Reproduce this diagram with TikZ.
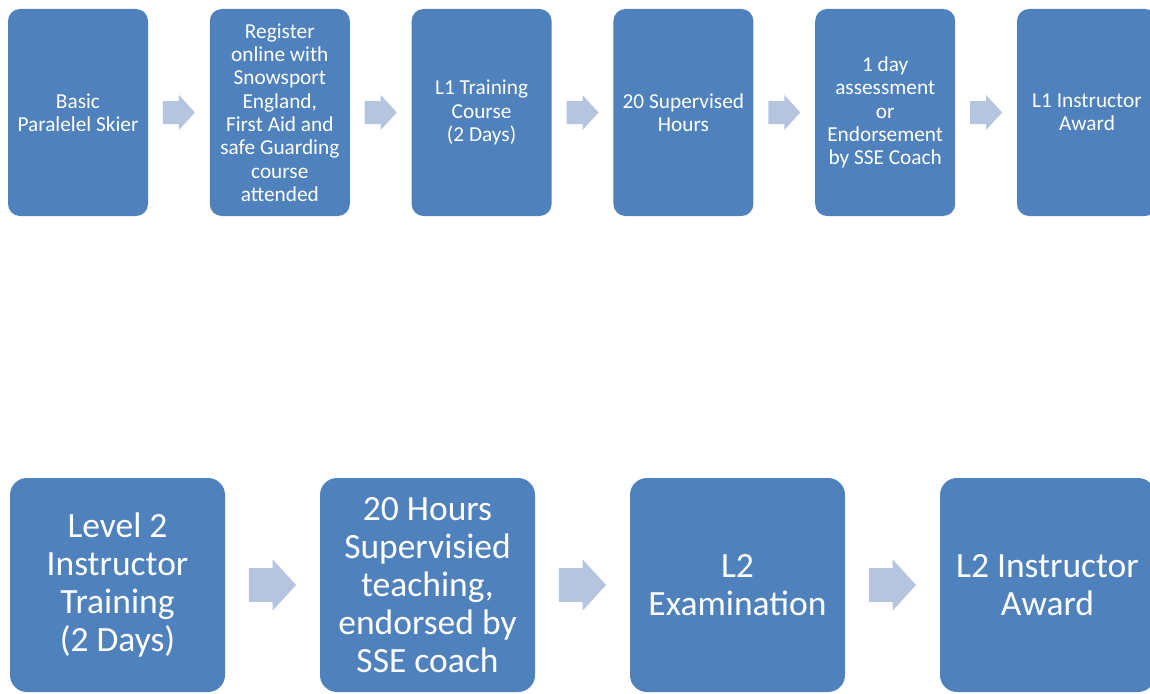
\documentclass[tikz,border=0pt]{standalone}
\usepackage{fontspec}
\setmainfont{Carlito}
\usetikzlibrary{calc}
\definecolor{boxblue}{HTML}{4F81BD}
\definecolor{arrowblue}{HTML}{B5C4DF}
\tikzset{
  stepbox/.style={rectangle, fill=boxblue, text=white, align=center, inner sep=0pt},
  smallbox/.style={stepbox, rounded corners=12pt, minimum width=140pt, minimum height=207pt,
    font=\fontsize{21.3}{23.3}\selectfont},
  bigbox/.style={stepbox, rounded corners=17pt, minimum width=215pt, minimum height=214pt,
    font=\fontsize{35.5}{38}\selectfont},
  arrowfill/.style={fill=arrowblue}
}
% block arrow halfway between two boxes
\newcommand{\steparrow}[3]{%
  \begin{scope}[shift={($(#1.east)!0.5!(#2.west)$)}, scale=#3]
    \fill[arrowfill] (-16,-11.5) -- (0,-11.5) -- (0,-17.5) -- (16,0) -- (0,17.5) -- (0,11.5) -- (-16,11.5) -- cycle;
  \end{scope}}
\begin{document}
\begin{tikzpicture}[x=1pt, y=-1pt]
  \useasboundingbox[fill=white] (0,0) rectangle (1150,693);
  % level 1
  \node[smallbox] (t1) at (78,112.5) {Basic\\Paralelel Skier};
  \node[smallbox] (t2) at (279.8,112.5) {Register\\online with\\Snowsport\\England,\\First Aid and\\safe Guarding\\course\\attended};
  \node[smallbox] (t3) at (481.6,112.5) {L1 Training\\Course\\(2 Days)};
  \node[smallbox] (t4) at (683.4,112.5) {20 Supervised\\Hours};
  \node[smallbox] (t5) at (885.2,112.5) {1 day\\assessment\\or\\Endorsement\\by SSE Coach};
  \node[smallbox] (t6) at (1087,112.5) {L1 Instructor\\Award};
  \foreach \a/\b in {t1/t2,t2/t3,t3/t4,t4/t5,t5/t6} {\steparrow{\a}{\b}{1}}
  % level 2
  \node[bigbox] (b1) at (117.5,585) {Level 2\\Instructor\\Training\\(2 Days)};
  \node[bigbox] (b2) at (427.5,585) {20 Hours\\Supervisied\\teaching,\\endorsed by\\SSE coach};
  \node[bigbox] (b3) at (737.5,585) {L2\\Examination};
  \node[bigbox] (b4) at (1047.5,585) {L2 Instructor\\Award};
  \foreach \a/\b in {b1/b2,b2/b3,b3/b4} {\steparrow{\a}{\b}{1.47}}
\end{tikzpicture}
\end{document}
